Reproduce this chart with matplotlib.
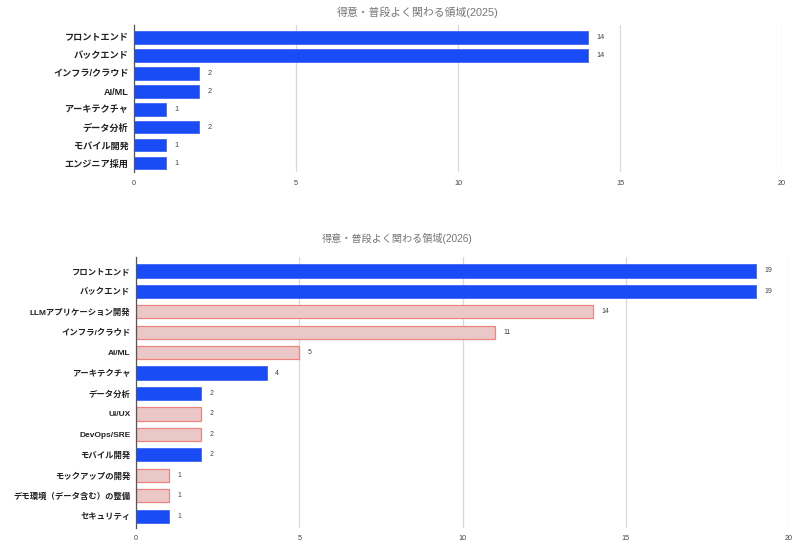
import matplotlib
matplotlib.use("Agg")
import matplotlib.pyplot as plt

plt.rcParams['font.family'] = ['Liberation Sans', 'Noto Sans CJK JP', 'DejaVu Sans']

cats_2025 = ["フロントエンド", "バックエンド", "インフラ/クラウド", "AI/ML", "アーキテクチャ",
             "データ分析", "モバイル開発", "エンジニア採用"]
vals_2025 = [14, 14, 2, 2, 1, 2, 1, 1]

cats_2026 = ["フロントエンド", "バックエンド", "LLMアプリケーション開発", "インフラ/クラウド", "AI/ML",
             "アーキテクチャ", "データ分析", "UI/UX", "DevOps/SRE", "モバイル開発",
             "モックアップの開発", "デモ環境（データ含む）の整備", "セキュリティ"]
vals_2026 = [19, 19, 14, 11, 5, 4, 2, 2, 2, 2, 1, 1, 1]
new_2026 = [False, False, True, True, True, False, False, True, True, False, True, True, False]

title_2025 = "得意・普段よく関わる領域(2025)"
title_2026 = "得意・普段よく関わる領域(2026)"
xticks = [0, 5, 10, 15, 20]

BLUE = "#1a4cf6"
BLUE_EDGE = "#3d66f7"
PINK = "#eac8c8"
PINK_EDGE = "#ec8580"
W, H = 800, 555

fig = plt.figure(figsize=(8, 5.55), dpi=100)


def make_ax(x0, x1, ytop, ybot):
    return fig.add_axes([x0 / W, 1 - ybot / H, (x1 - x0) / W, (ybot - ytop) / H])


def style(ax, n, top_pad, bot_pad, label_size, tick_pad):
    ax.set_xlim(0, 20)
    ax.set_ylim(n - 1 + bot_pad, -top_pad)
    ax.set_xticks(xticks)
    ax.grid(axis='x', color='#d9d9d9', linewidth=0.9)
    ax.set_axisbelow(True)
    for s in ['top', 'right', 'bottom']:
        ax.spines[s].set_visible(False)
    ax.spines['left'].set_color('#555555')
    ax.spines['left'].set_linewidth(0.9)
    ax.tick_params(axis='both', length=0)
    ax.tick_params(axis='x', labelsize=5.2, labelcolor='#444444', pad=tick_pad)
    ax.tick_params(axis='y', pad=4)
    for lab in ax.get_yticklabels():
        lab.set_fontsize(label_size)
        lab.set_fontweight('bold')
        lab.set_color('#222222')


# Top chart (2025)
ax1 = make_ax(134, 782, 25, 172)
y1 = list(range(len(cats_2025)))
ax1.barh(y1, vals_2025, height=0.72, color=BLUE, edgecolor=BLUE_EDGE, linewidth=0.6)
ax1.set_yticks(y1)
ax1.set_yticklabels(cats_2025)
style(ax1, len(cats_2025), 0.67, 0.5, 6.6, 6)
for y, v in zip(y1, vals_2025):
    ax1.annotate(str(v), (v, y), xytext=(6, 0), textcoords='offset points',
                 va='center', ha='left', fontsize=5.3, color='#444444')
fig.text(418 / W, 1 - 12 / H, title_2025, ha='center', va='center', fontsize=7.8, color='#757575')

# Bottom chart (2026)
ax2 = make_ax(136, 789, 257, 528)
y2 = list(range(len(cats_2026)))
for y, v, new in zip(y2, vals_2026, new_2026):
    if new:
        ax2.barh(y, v, height=0.65, color=PINK, edgecolor=PINK_EDGE, linewidth=0.9)
    else:
        ax2.barh(y, v, height=0.65, color=BLUE, edgecolor=BLUE_EDGE, linewidth=0.6)
    ax2.annotate(str(v), (v, y), xytext=(6, 0), textcoords='offset points',
                 va='center', ha='left', fontsize=5.0, color='#444444')
ax2.set_yticks(y2)
ax2.set_yticklabels(cats_2026)
style(ax2, len(cats_2026), 0.68, 0.58, 6.0, 5)
fig.text(397 / W, 1 - 238 / H, title_2026, ha='center', va='center', fontsize=7.3, color='#757575')

fig.savefig("out.png", dpi=100, facecolor='white')
